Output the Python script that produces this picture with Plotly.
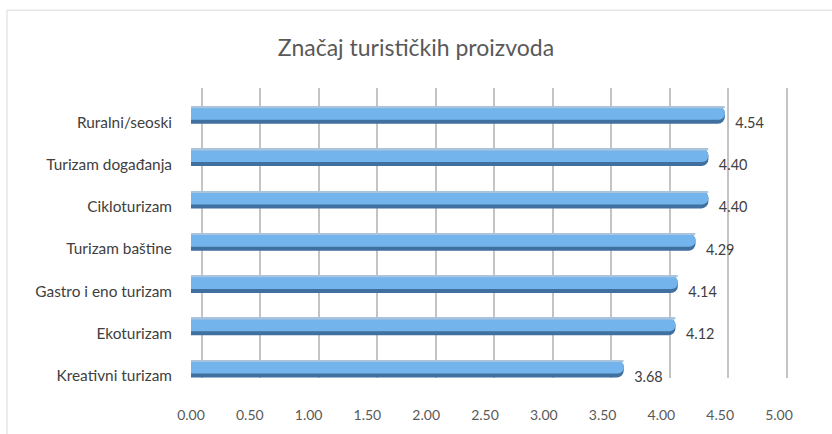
import plotly.graph_objects as go

categories = ['Ruralni/seoski', 'Turizam događanja', 'Cikloturizam', 'Turizam baštine',
              'Gastro i eno turizam', 'Ekoturizam', 'Kreativni turizam']
values = [4.54, 4.40, 4.40, 4.29, 4.14, 4.12, 3.68]
x_ticks = [0.0, 0.5, 1.0, 1.5, 2.0, 2.5, 3.0, 3.5, 4.0, 4.5, 5.0]

fig = go.Figure()

# invisible trace so the back-wall grid subplot (x, y2) gets drawn
fig.add_trace(go.Scatter(x=values, y=categories, xaxis='x', yaxis='y2',
                         mode='markers', marker=dict(opacity=0), hoverinfo='skip'))

# cylinder look: dark base, light band on top, thin pale top edge
# (bars sit a bit above their label, like the 3D original)
fig.add_trace(go.Bar(
    y=categories, x=values, orientation='h', xaxis='x2', yaxis='y',
    width=0.41, offset=-0.37,
    marker=dict(color='#40709f', cornerradius=7, line_width=0),
    hoverinfo='skip'))
fig.add_trace(go.Bar(
    y=categories, x=values, orientation='h', xaxis='x2', yaxis='y',
    width=0.30, offset=-0.355,
    marker=dict(color='#72b4eb', cornerradius=6, line_width=0),
    hoverinfo='skip'))
fig.add_trace(go.Bar(
    y=categories, x=values, orientation='h', xaxis='x2', yaxis='y',
    width=0.04, offset=-0.37,
    marker=dict(color='#a9c4dc', cornerradius=2, line_width=0),
    hoverinfo='skip'))
# value labels, level with the category label
fig.add_trace(go.Bar(
    y=categories, x=values, orientation='h', xaxis='x2', yaxis='y',
    width=0.41, offset=-0.205,
    marker=dict(color='rgba(0,0,0,0)', line_width=0),
    texttemplate='  %{x:.2f}', textposition='outside',
    textfont=dict(family='Lato', size=15, color='#404040'),
    cliponaxis=False, hoverinfo='skip'))

fig.update_layout(
    width=832, height=434,
    margin=dict(l=185, r=33, t=88, b=37),
    paper_bgcolor='white', plot_bgcolor='rgba(0,0,0,0)',
    barmode='overlay', showlegend=False,
    font=dict(family='Lato', color='#404040'),
    title=dict(text='Značaj turističkih proizvoda', x=0.5, xanchor='center',
               y=1 - 48 / 434, yanchor='middle',
               font=dict(family='Lato', size=23, color='#595959')),
    # back-wall gridlines, shifted right/up as in the 3D original
    xaxis=dict(domain=[0.00863, 0.9995], range=[-0.1, 5.1], anchor='y2',
               tickvals=x_ticks, showgrid=True, gridcolor='#c4c4c4', gridwidth=1.5,
               zeroline=False, showticklabels=False, showline=False),
    yaxis2=dict(domain=[0.0615, 1.0], anchor='x', autorange='reversed',
                showgrid=False, showticklabels=False, zeroline=False,
                showline=False, ticks=''),
    xaxis2=dict(domain=[0.00977, 0.96743], range=[0, 5], anchor='y',
                tickvals=x_ticks, tickformat='.2f', showgrid=False,
                zeroline=False, showline=False, ticks='',
                ticklabelstandoff=8,
                tickfont=dict(size=14, color='#595959')),
    yaxis=dict(domain=[0.0, 0.958], anchor='x2', autorange='reversed',
               showgrid=False, zeroline=False, showline=False, ticks='',
               ticklabelstandoff=18,
               tickfont=dict(size=15.4, color='#404040')),
    shapes=[dict(type='rect', xref='paper', yref='paper',
                 x0=-0.2899, x1=1.08, y0=-0.14, y1=1.252,
                 line=dict(color='#d9d9d9', width=1), layer='below'),
            # left wall line at 0 on the back grid
            dict(type='line', xref='x', yref='y2 domain',
                 x0=x_ticks[0], x1=x_ticks[0], y0=0, y1=1,
                 line=dict(color='#c4c4c4', width=1.5), layer='below')],
)

fig.write_html('out.html', config={'displayModeBar': False},
               post_script="document.body.style.margin='0';"
                           "document.body.style.overflow='hidden';")
